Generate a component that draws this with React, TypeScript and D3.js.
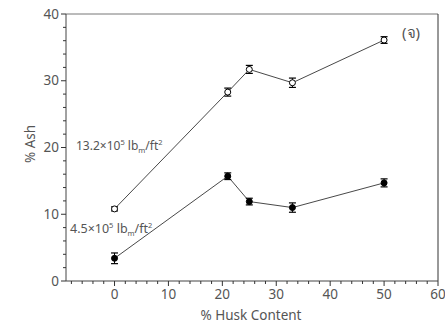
import React from "react";
import * as d3 from "d3";

// % husk content (x) shared by both compaction pressures
const huskContent = [0, 21, 25, 33, 50];
// % ash at 13.2×10^5 lbm/ft² (open markers)
const ashHigh = [10.8, 28.3, 31.7, 29.7, 36.1];
const ashHighErr = [0.3, 0.6, 0.6, 0.7, 0.5];
// % ash at 4.5×10^5 lbm/ft² (filled markers)
const ashLow = [3.4, 15.7, 11.9, 11.0, 14.7];
const ashLowErr = [0.8, 0.5, 0.5, 0.7, 0.6];

const xMajorTicks = [0, 10, 20, 30, 40, 50, 60];
const yMajorTicks = [0, 10, 20, 30, 40];

const W = 445;
const H = 323;
const FONT = "'Noto Sans', 'DejaVu Sans', sans-serif";
const TEXT = "#555";

export default function App() {
  const x = d3.scaleLinear().domain([-9, 60]).range([66, 438]);
  const y = d3.scaleLinear().domain([0, 40]).range([281, 14]);

  const xMinor = d3.range(-8, 61, 2);
  const yMinor = d3.range(0, 41, 2);

  const line = d3
    .line<number>()
    .x((_, i) => x(huskContent[i]))
    .y((v) => y(v));

  const series = [
    { vals: ashHigh, errs: ashHighErr, fill: "#fff" },
    { vals: ashLow, errs: ashLowErr, fill: "#000" },
  ];

  const [x0, x1] = x.range();
  const [yb, yt] = y.range();

  return (
    <svg width={W} height={H} style={{ position: "absolute", left: 0, top: 0, background: "#fff" }}>
      {/* frame */}
      <line x1={x0} x2={x1} y1={yt} y2={yt} stroke="#777" strokeWidth={1} />
      <line x1={x1} x2={x1} y1={yt} y2={yb} stroke="#333" strokeWidth={1} />
      <line x1={x0} x2={x0} y1={yt} y2={yb} stroke="#444" strokeWidth={1} />
      <line x1={x0} x2={x1} y1={yb} y2={yb} stroke="#444" strokeWidth={1} />

      {/* x ticks */}
      {xMinor.map((t) => (
        <line key={"xm" + t} x1={x(t)} x2={x(t)} y1={yb} y2={yb + (t % 10 === 0 ? 5 : 3)} stroke="#333" strokeWidth={1} />
      ))}
      {xMajorTicks.map((t) => (
        <text key={"xl" + t} x={x(t)} y={yb + 18} textAnchor="middle" fontFamily={FONT} fontSize={13.5} fill={TEXT}>
          {t}
        </text>
      ))}

      {/* y ticks */}
      {yMinor.map((t) => (
        <line key={"ym" + t} x1={x0} x2={x0 - (t % 10 === 0 ? 5 : 3)} y1={y(t)} y2={y(t)} stroke="#333" strokeWidth={1} />
      ))}
      {yMajorTicks.map((t) => (
        <text key={"yl" + t} x={x0 - 7} y={y(t)} dy="0.35em" textAnchor="end" fontFamily={FONT} fontSize={13.5} fill={TEXT}>
          {t}
        </text>
      ))}

      {/* axis titles */}
      <text x={251} y={320} textAnchor="middle" fontFamily={FONT} fontSize={13.5} fill={TEXT}>
        % Husk Content
      </text>
      <text
        transform={`translate(35, ${144}) rotate(-90)`}
        textAnchor="middle"
        fontFamily={FONT}
        fontSize={13.5}
        fill={TEXT}
      >
        % Ash
      </text>

      {/* series */}
      {series.map((s, si) => (
        <g key={si}>
          <path d={line(s.vals) || ""} fill="none" stroke="#333" strokeWidth={0.9} />
          {s.vals.map((v, i) => {
            const cx = x(huskContent[i]);
            const top = y(v + s.errs[i]);
            const bot = y(v - s.errs[i]);
            return (
              <g key={i}>
                <line x1={cx} x2={cx} y1={top} y2={bot} stroke="#000" strokeWidth={1} />
                <line x1={cx - 3.5} x2={cx + 3.5} y1={top} y2={top} stroke="#000" strokeWidth={1.2} />
                <line x1={cx - 3.5} x2={cx + 3.5} y1={bot} y2={bot} stroke="#000" strokeWidth={1.2} />
                <circle cx={cx} cy={y(v)} r={3} fill={s.fill} stroke="#000" strokeWidth={1} />
              </g>
            );
          })}
        </g>
      ))}

      {/* pressure annotations */}
      <text x={76} y={150} fontFamily={FONT} fontSize={12} fill={TEXT}>
        13.2×10
        <tspan dy={-5} fontSize={7.5}>5</tspan>
        <tspan dy={5}> lb</tspan>
        <tspan dy={3} fontSize={7.5}>m</tspan>
        <tspan dy={-3}>/ft</tspan>
        <tspan dy={-5} fontSize={7.5}>2</tspan>
      </text>
      <text x={70} y={233} fontFamily={FONT} fontSize={12.5} fill={TEXT}>
        4.5×10
        <tspan dy={-5} fontSize={7.5}>5</tspan>
        <tspan dy={5}> lb</tspan>
        <tspan dy={3} fontSize={7.5}>m</tspan>
        <tspan dy={-3}>/ft</tspan>
        <tspan dy={-5} fontSize={7.5}>2</tspan>
      </text>

      {/* panel label */}
      <text x={402} y={38} fontFamily={FONT} fontSize={15} fill={TEXT}>
        (จ)
      </text>
    </svg>
  );
}
